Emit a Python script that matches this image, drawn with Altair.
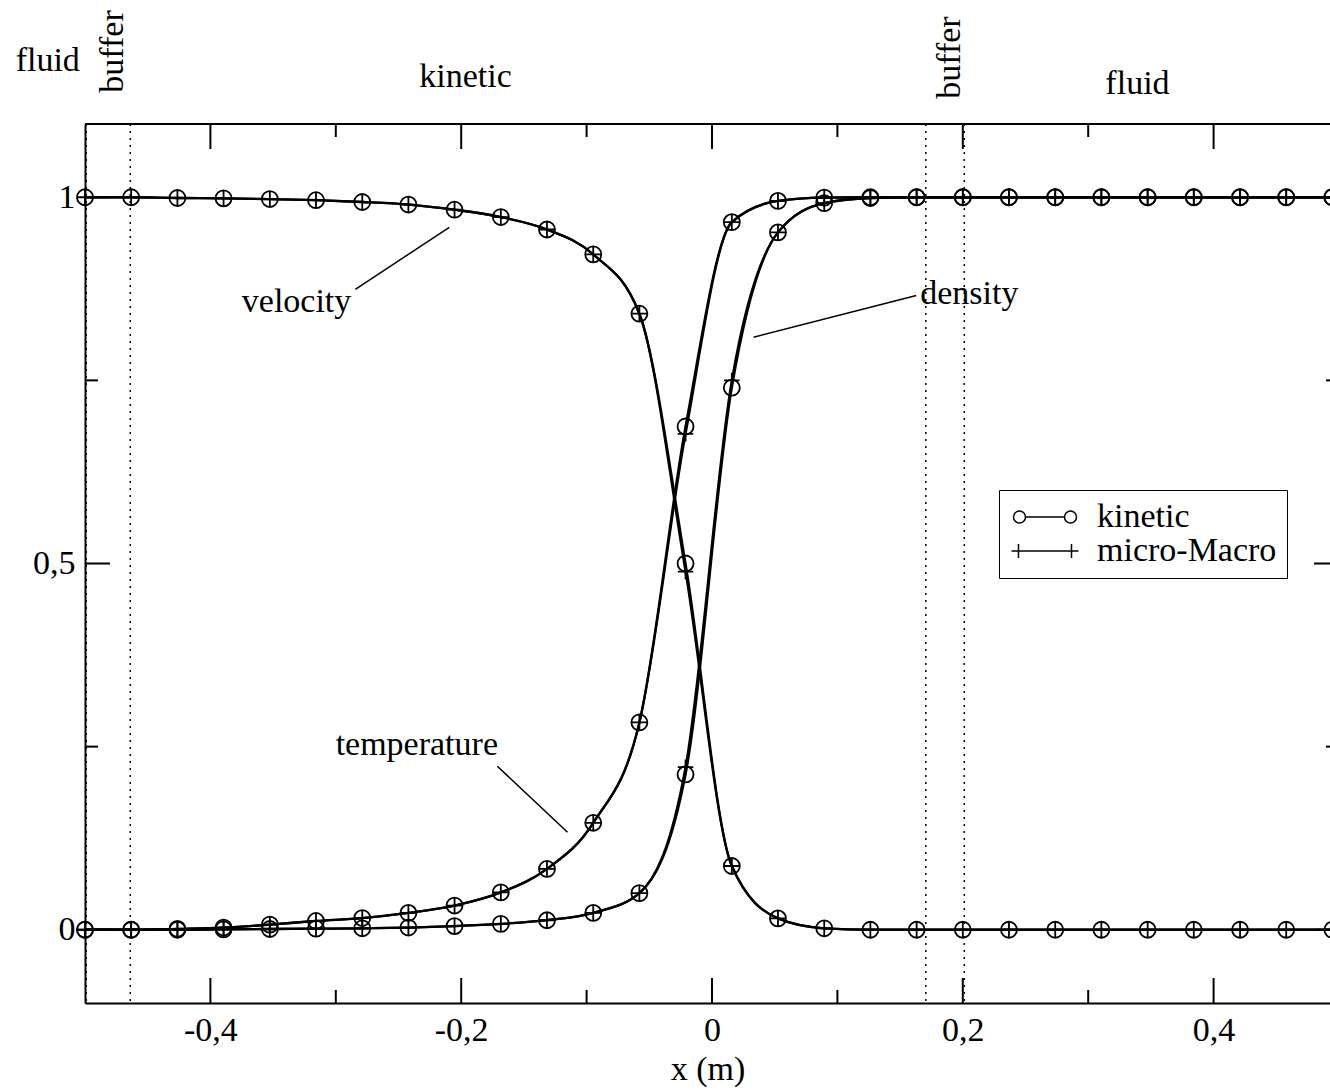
import altair as alt
import pandas as pd

SERIF = "Liberation Serif"
FONT_SIZE = 34
W, H = 1245, 879          # plot area in px; x = 0.5 lies just past the right edge
X_RIGHT_PX = 1254         # pixel position of x = 0.5 (right frame, off the page)

# grid positions of the cells (m)
x_grid = [-0.5, -0.4632, -0.4263, -0.3895, -0.3526, -0.3158, -0.2789, -0.2421,
          -0.2053, -0.1684, -0.1316, -0.0947, -0.0579, -0.0211, 0.0158, 0.0526,
          0.0895, 0.1263, 0.1632, 0.2, 0.2368, 0.2737, 0.3105, 0.3474,
          0.3842, 0.4211, 0.4579, 0.4947]

# kinetic solution (normalised profiles)
velocity_kinetic = [1.0, 1.0, 0.999, 0.9985, 0.9975, 0.996, 0.9935, 0.990,
                    0.983, 0.973, 0.956, 0.922, 0.841, 0.500, 0.087, 0.0155,
                    0.002, 0.0, 0.0, 0.0, 0.0, 0.0, 0.0, 0.0, 0.0, 0.0, 0.0, 0.0]
temperature_kinetic = [0.0, 0.0, 0.0013, 0.003, 0.007, 0.012, 0.016, 0.023,
                       0.033, 0.051, 0.083, 0.146, 0.283, 0.687, 0.966, 0.995,
                       0.9995, 1.0, 1.0, 1.0, 1.0, 1.0, 1.0, 1.0, 1.0, 1.0, 1.0, 1.0]
density_kinetic = [0.0, 0.0, 0.0, 0.0005, 0.001, 0.0015, 0.002, 0.003,
                   0.005, 0.008, 0.013, 0.023, 0.050, 0.212, 0.740, 0.952,
                   0.992, 0.999, 1.0, 1.0, 1.0, 1.0, 1.0, 1.0, 1.0, 1.0, 1.0, 1.0]

# coupled micro-Macro solution
velocity_mm = [1.0, 1.0, 0.999, 0.9985, 0.9975, 0.996, 0.9935, 0.990,
               0.983, 0.973, 0.956, 0.922, 0.841, 0.489, 0.087, 0.0155,
               0.002, 0.0, 0.0, 0.0, 0.0, 0.0, 0.0, 0.0, 0.0, 0.0, 0.0, 0.0]
temperature_mm = [0.0, 0.0, 0.0013, 0.003, 0.007, 0.012, 0.016, 0.023,
                  0.033, 0.051, 0.083, 0.146, 0.283, 0.677, 0.966, 0.995,
                  0.9995, 1.0, 1.0, 1.0, 1.0, 1.0, 1.0, 1.0, 1.0, 1.0, 1.0, 1.0]
density_mm = [0.0, 0.0, 0.0, 0.0005, 0.001, 0.0015, 0.002, 0.003,
              0.005, 0.008, 0.013, 0.023, 0.050, 0.222, 0.750, 0.952,
              0.992, 0.999, 1.0, 1.0, 1.0, 1.0, 1.0, 1.0, 1.0, 1.0, 1.0, 1.0]

# domain decomposition: fluid | buffer | kinetic | buffer | fluid
region_bounds = [-0.499, -0.4639, 0.1705, 0.2012]
region_names = ["fluid", "buffer", "kinetic", "buffer", "fluid"]
region_x = [-0.5297, -0.4699, -0.1966, 0.1976, 0.3393]
region_y = [1.1723, 1.1990, 1.1504, 1.1907, 1.1408]
region_angle = [0, 270, 0, 270, 0]

# curve annotations with leader lines
note_text = ["velocity", "density", "temperature"]
note_x = [-0.3313, 0.2052, -0.2354]
note_y = [0.8427, 0.8536, 0.2383]
leader_x1 = [-0.2844, 0.0332, -0.1712]
leader_y1 = [0.8742, 0.8090, 0.2233]
leader_x2 = [-0.2095, 0.1629, -0.1152]
leader_y2 = [0.9590, 0.8660, 0.1331]

x_major = [-0.4, -0.2, 0, 0.2, 0.4]
x_minor = [-0.3, -0.1, 0.1, 0.3]
y_major = [0, 0.5, 1]
y_minor = [0.25, 0.75]

models = ["kinetic", "micro-Macro"]

rows = []
for model, series in (
    ("kinetic", {"velocity": velocity_kinetic, "temperature": temperature_kinetic,
                 "density": density_kinetic}),
    ("micro-Macro", {"velocity": velocity_mm, "temperature": temperature_mm,
                     "density": density_mm}),
):
    for quantity, values in series.items():
        for x, v in zip(x_grid, values):
            rows.append({"x": x, "value": v, "quantity": quantity, "model": model})
profiles = pd.DataFrame(rows)

x_scale = alt.Scale(domain=[-0.5, 0.5 - (X_RIGHT_PX - W) / X_RIGHT_PX], nice=False, zero=False)
y_scale = alt.Scale(domain=[-0.1, 1.1], nice=False, zero=False)

comma_labels = "replace(toString(datum.value), '.', ',')"
axis_style = dict(labelFont=SERIF, labelFontSize=FONT_SIZE, labelColor="black",
                  ticks=False, grid=False, domainColor="black",
                  domainWidth=2, labelFlush=False)

# one shared definition per axis, repeated in every layer so they merge cleanly
x_axis = alt.Axis(values=x_major, labelExpr=comma_labels, title="x (m)",
                  titleFont=SERIF, titleFontSize=FONT_SIZE, titleFontWeight="normal",
                  titleColor="black", titlePadding=5, labelPadding=10, **axis_style)
y_axis = alt.Axis(values=y_major, labelExpr=comma_labels, title="",
                  labelPadding=10, **axis_style)


def xq(field):
    return alt.X(field, type="quantitative", scale=x_scale, axis=x_axis)


def yq(field):
    return alt.Y(field, type="quantitative", scale=y_scale, axis=y_axis)


base = alt.Chart(profiles)

lines = base.mark_line(interpolate="monotone", color="black", strokeWidth=2.3).encode(
    x=xq("x"), y=yq("value"), detail=["quantity:N", "model:N"]
)

PLUS = "M-1,0L1,0M0,-1L0,1"
circles = base.transform_filter(alt.datum.model == "kinetic").mark_point(
    shape="circle", size=256, filled=False, color="black", strokeWidth=1.8, opacity=1
).encode(x=xq("x"), y=yq("value"))
pluses = base.transform_filter(alt.datum.model == "micro-Macro").mark_point(
    shape=PLUS, size=240, filled=False, color="black", strokeWidth=1.8, opacity=1
).encode(x=xq("x"), y=yq("value"))

# legend glyphs: symbol - line - symbol
KIN_GLYPH = ("M-4.5,0A0.857,0.857,0,1,0,-2.786,0A0.857,0.857,0,1,0,-4.5,0"
             "M-2.786,0L2.786,0"
             "M2.786,0A0.857,0.857,0,1,0,4.5,0A0.857,0.857,0,1,0,2.786,0")
MM_GLYPH = "M-4.786,0L4.786,0M-3.786,-1L-3.786,1M3.786,-1L3.786,1"

legend_layer = base.transform_filter("false").mark_point(
    filled=False, color="black", strokeWidth=1.5, opacity=1, size=196
).encode(
    x=xq("x"), y=yq("value"),
    shape=alt.Shape("model:N",
                    scale=alt.Scale(domain=models, range=[KIN_GLYPH, MM_GLYPH]),
                    legend=alt.Legend(
                        title=None, orient="none", legendX=914, legendY=366,
                        labelFont=SERIF, labelFontSize=FONT_SIZE, labelColor="black",
                        labelLimit=400, symbolSize=196, symbolStrokeColor="black",
                        symbolFillColor="transparent", symbolStrokeWidth=1.5,
                        symbolOffset=19, labelOffset=35, padding=10, rowPadding=0,
                        strokeColor="black", fillColor="white")),
)

boundaries = alt.Chart(pd.DataFrame({"x": region_bounds})).mark_rule(
    color="black", strokeWidth=1.5, strokeDash=[2, 5]
).encode(x=xq("x"))


def x_ticks(values, length):
    df = pd.DataFrame({"x": values})
    bottom = alt.Chart(df).mark_rule(color="black", strokeWidth=2).encode(
        x=xq("x"), y=alt.value(H), y2=alt.value(H - length))
    top = alt.Chart(df).mark_rule(color="black", strokeWidth=2).encode(
        x=xq("x"), y=alt.value(0), y2=alt.value(length))
    return [bottom, top]


def y_ticks(values, length):
    df = pd.DataFrame({"y": values})
    left = alt.Chart(df).mark_rule(color="black", strokeWidth=2).encode(
        y=yq("y"), x=alt.value(0), x2=alt.value(length))
    right = alt.Chart(df).mark_rule(color="black", strokeWidth=2).encode(
        y=yq("y"), x=alt.value(X_RIGHT_PX), x2=alt.value(X_RIGHT_PX - length))
    return [left, right]


ticks = x_ticks(x_major, 25) + x_ticks(x_minor, 13) + y_ticks(y_major, 25) + y_ticks(y_minor, 13)

top_frame = alt.Chart(pd.DataFrame({"edge": ["top"]})).mark_rule(
    color="black", strokeWidth=2
).encode(x=alt.value(0), x2=alt.value(X_RIGHT_PX), y=alt.value(0))

leaders = alt.Chart(pd.DataFrame({
    "x1": leader_x1, "y1": leader_y1, "x2": leader_x2, "y2": leader_y2
})).mark_rule(color="black", strokeWidth=1.5).encode(
    x=xq("x1"), y=yq("y1"), x2="x2:Q", y2="y2:Q"
)

notes = alt.Chart(pd.DataFrame({"label": note_text, "x": note_x, "y": note_y})).mark_text(
    font=SERIF, fontSize=FONT_SIZE, color="black", align="center", baseline="alphabetic"
).encode(x=xq("x"), y=yq("y"), text="label:N")

regions = alt.Chart(pd.DataFrame({
    "label": region_names, "x": region_x, "y": region_y, "angle": region_angle
})).mark_text(
    font=SERIF, fontSize=FONT_SIZE, color="black", align="center", baseline="alphabetic"
).encode(x=xq("x"), y=yq("y"), text="label:N", angle=alt.Angle("angle:Q", scale=None))

chart = alt.layer(
    lines, boundaries, circles, pluses, legend_layer, *ticks, top_frame,
    leaders, notes, regions
).properties(
    width=W, height=H,
    autosize=alt.AutoSizeParams(type="none"),
    padding={"left": 85, "top": 124, "right": 0, "bottom": 87},
).configure_view(stroke=None)

chart.save("out.html", embed_options={"renderer": "svg", "actions": False})
